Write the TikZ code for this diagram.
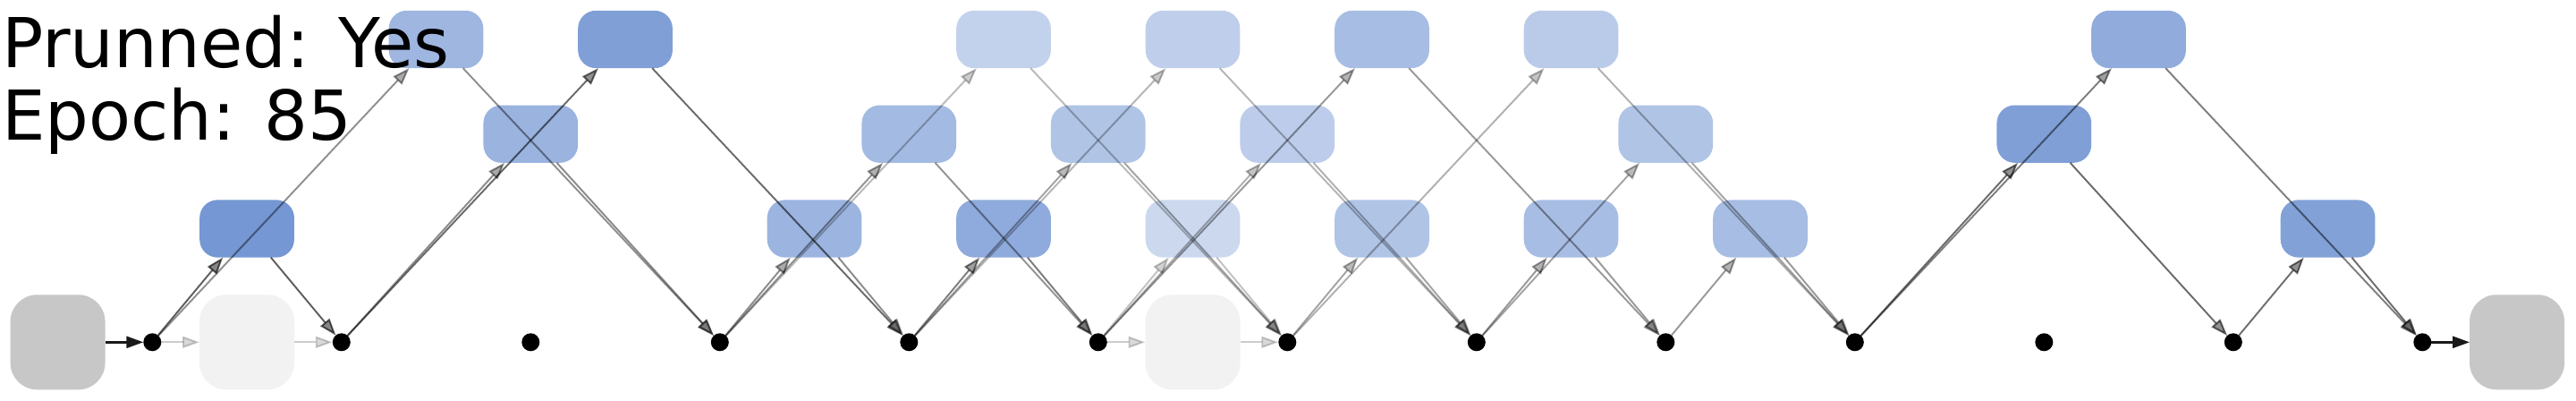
\documentclass[tikz,border=0pt]{standalone}
\usepackage{fontspec}
\setmainfont{DejaVu Sans}
\usetikzlibrary{arrows.meta, positioning}
\definecolor{opblue}{HTML}{4472C4}

\begin{document}
\begin{tikzpicture}[
    >={Triangle[length=0.19cm, width=0.13cm, fill=black!75, line width=0.55pt]},
    every node/.style={inner sep=0pt, outer sep=0pt},
    opbox/.style={fill=opblue!#1!white, rounded corners=0.2cm, minimum width=1.057cm, minimum height=0.643cm},
    iobox/.style={fill=black!#1, rounded corners=0.3cm, minimum width=1.06cm, minimum height=1.06cm},
    nodedot/.style={circle, fill=black, minimum size=0.2cm},
    wire/.style={->, line width=0.55pt, opacity=#1},
    mainwire/.style={-{Triangle[length=0.19cm, width=0.13cm]}, line width=0.7pt, draw=black!90},
    labeltext/.style={font=\fontsize{21.85}{22.76}\selectfont, anchor=base west}
]
    \useasboundingbox (0,0) rectangle (28.8,4.47);

    \begin{scope}[xshift=1.703cm, x=1.0575cm]
    % Input / Output
    \node[iobox=22] (IN) at (-1,0.647) {};
    \node[iobox=22] (OUT) at (25,0.647) {};

    % Pruned skips
    \node[iobox=5] (S01) at (1,0.647) {};
    \node[iobox=5] (S56) at (11,0.647) {};

    % Cell nodes
    \node[nodedot] (N0) at (0,0.647) {};
    \node[nodedot] (N1) at (2,0.647) {};
    \node[nodedot] (N2) at (4,0.647) {};
    \node[nodedot] (N3) at (6,0.647) {};
    \node[nodedot] (N4) at (8,0.647) {};
    \node[nodedot] (N5) at (10,0.647) {};
    \node[nodedot] (N6) at (12,0.647) {};
    \node[nodedot] (N7) at (14,0.647) {};
    \node[nodedot] (N8) at (16,0.647) {};
    \node[nodedot] (N9) at (18,0.647) {};
    \node[nodedot] (N10) at (20,0.647) {};
    \node[nodedot] (N11) at (22,0.647) {};
    \node[nodedot] (N12) at (24,0.647) {};

    % Operations, first row
    \node[opbox=74] (E01) at (1,1.915) {};
    \node[opbox=53] (E34) at (7,1.915) {};
    \node[opbox=60] (E45) at (9,1.915) {};
    \node[opbox=28] (E56) at (11,1.915) {};
    \node[opbox=42] (E67) at (13,1.915) {};
    \node[opbox=47] (E78) at (15,1.915) {};
    \node[opbox=47] (E89) at (17,1.915) {};
    \node[opbox=67] (E1112) at (23,1.915) {};

    % Operations, second row
    \node[opbox=54] (E13) at (4,2.973) {};
    \node[opbox=49] (E35) at (8,2.973) {};
    \node[opbox=42] (E46) at (10,2.973) {};
    \node[opbox=36] (E57) at (12,2.973) {};
    \node[opbox=42] (E79) at (16,2.973) {};
    \node[opbox=68] (E911) at (20,2.973) {};

    % Operations, third row
    \node[opbox=52] (E03) at (3,4.03) {};
    \node[opbox=68] (E14) at (5,4.03) {};
    \node[opbox=32] (E36) at (9,4.03) {};
    \node[opbox=34] (E47) at (11,4.03) {};
    \node[opbox=47] (E58) at (13,4.03) {};
    \node[opbox=37] (E69) at (15,4.03) {};
    \node[opbox=59] (E912) at (21,4.03) {};
    \end{scope}

    % Edges
    % Input and output
    \path (IN) edge[mainwire] (N0)
          (N12) edge[mainwire] (OUT);

    % Pruned skips
    \path (N0) edge[wire=0.2] (S01) (S01) edge[wire=0.2] (N1)
          (N5) edge[wire=0.2] (S56) (S56) edge[wire=0.2] (N6);

    % Through the operations
    \path (N0) edge[wire=0.63] (E01) (E01) edge[wire=0.63] (N1)
          (N0) edge[wire=0.44] (E03) (E03) edge[wire=0.44] (N3)
          (N1) edge[wire=0.46] (E13) (E13) edge[wire=0.46] (N3)
          (N1) edge[wire=0.58] (E14) (E14) edge[wire=0.58] (N4)
          (N3) edge[wire=0.45] (E34) (E34) edge[wire=0.45] (N4)
          (N3) edge[wire=0.42] (E35) (E35) edge[wire=0.42] (N5)
          (N3) edge[wire=0.27] (E36) (E36) edge[wire=0.27] (N6)
          (N4) edge[wire=0.51] (E45) (E45) edge[wire=0.51] (N5)
          (N4) edge[wire=0.36] (E46) (E46) edge[wire=0.36] (N6)
          (N4) edge[wire=0.29] (E47) (E47) edge[wire=0.29] (N7)
          (N5) edge[wire=0.24] (E56) (E56) edge[wire=0.24] (N6)
          (N5) edge[wire=0.31] (E57) (E57) edge[wire=0.31] (N7)
          (N5) edge[wire=0.40] (E58) (E58) edge[wire=0.40] (N8)
          (N6) edge[wire=0.36] (E67) (E67) edge[wire=0.36] (N7)
          (N6) edge[wire=0.31] (E69) (E69) edge[wire=0.31] (N9)
          (N7) edge[wire=0.40] (E78) (E78) edge[wire=0.40] (N8)
          (N7) edge[wire=0.36] (E79) (E79) edge[wire=0.36] (N9)
          (N8) edge[wire=0.40] (E89) (E89) edge[wire=0.40] (N9)
          (N9) edge[wire=0.58] (E911) (E911) edge[wire=0.58] (N11)
          (N9) edge[wire=0.50] (E912) (E912) edge[wire=0.50] (N12)
          (N11) edge[wire=0.57] (E1112) (E1112) edge[wire=0.57] (N12);

    % Labels
    \node[labeltext] (TITLE) at (0.02,3.71) {Prunned: Yes};
    \node[labeltext] (EPOCH) at (0.02,2.91) {Epoch: 85};

\end{tikzpicture}
\end{document}
